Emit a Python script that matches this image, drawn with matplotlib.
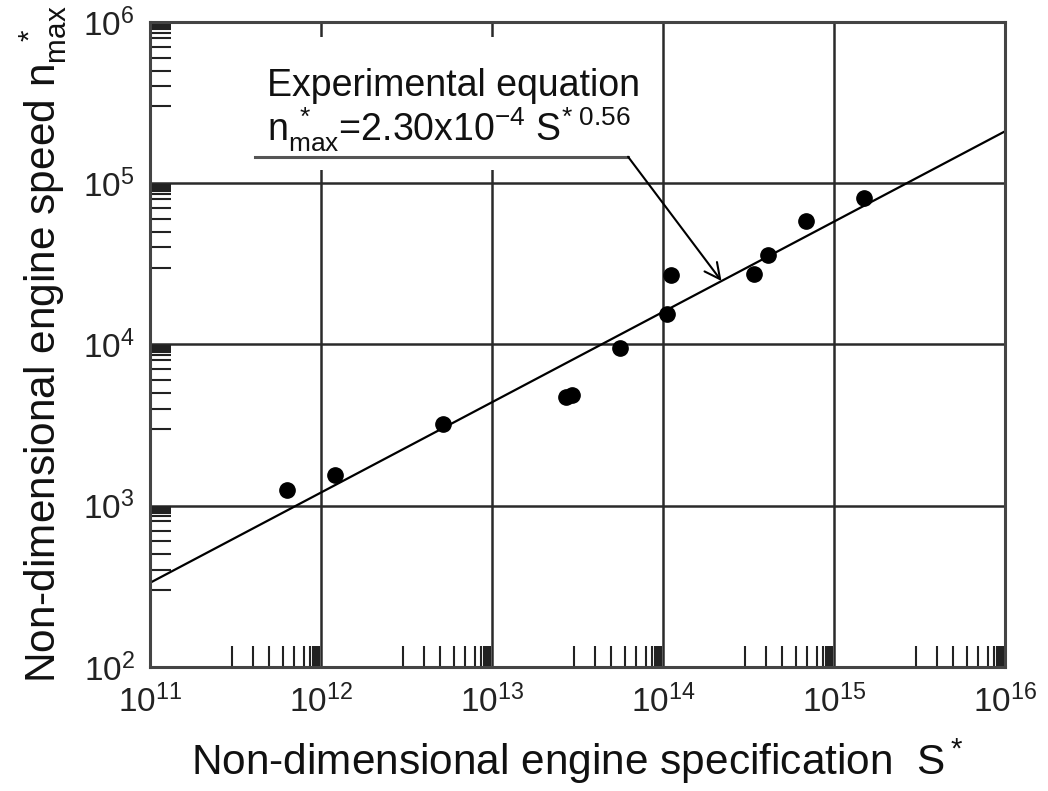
import matplotlib
matplotlib.use("Agg")
import matplotlib.pyplot as plt
from matplotlib.ticker import LogLocator, NullFormatter
from matplotlib.patches import Rectangle

plt.rcParams['font.family'] = ['Liberation Sans', 'DejaVu Sans']
plt.rcParams['mathtext.fontset'] = 'custom'
plt.rcParams['mathtext.rm'] = 'Liberation Sans'
plt.rcParams['mathtext.it'] = 'Liberation Sans:italic'
plt.rcParams['mathtext.bf'] = 'Liberation Sans:bold'

# measured engines: non-dimensional specification S* and max speed n*
spec_s = [6.3e11, 1.21e12, 5.2e12, 2.7e13, 2.95e13, 5.6e13,
          1.06e14, 1.12e14, 3.4e14, 4.1e14, 6.9e14, 1.5e15]
speed_n = [1260, 1550, 3230, 4750, 4850, 9500,
           15500, 27000, 27300, 35700, 58600, 81000]

# experimental equation n* = coef * S*^expo
coef = 2.30e-4
expo = 0.56
fit_s = [1e11, 1e16]
fit_n = [coef * s ** expo for s in fit_s]

# leader line of the equation label (corner, then arrow tip on the fit line)
leader_s = [4.1e11, 6.25e13]
leader_y = 1.46e5
tip_s = 2.2e14

fig = plt.figure(figsize=(10.48, 7.91), dpi=100)
ax = fig.add_axes([0.1431, 0.1568, 0.8158, 0.8154])
ax.set_xscale('log')
ax.set_yscale('log')
ax.set_xlim(1e11, 1e16)
ax.set_ylim(1e2, 1e6)
ax.set_axisbelow(True)

ax.grid(which='major', color='#2a2a2a', lw=1.8)
ax.add_patch(Rectangle((0.117, 0.771), 0.47, 0.206, transform=ax.transAxes,
                       facecolor='white', edgecolor='none', zorder=1))

ax.plot(fit_s, fit_n, color='black', lw=1.6, zorder=2)
ax.plot(spec_s, speed_n, 'o', color='black', ms=11, zorder=3)

ax.plot(leader_s, [leader_y, leader_y], color='#555555', lw=2.2, zorder=2)
ax.annotate('', xy=(tip_s, coef * tip_s ** expo), xytext=(leader_s[1], leader_y),
            arrowprops=dict(arrowstyle='->', color='black', lw=1.5,
                            mutation_scale=28, shrinkA=0, shrinkB=0), zorder=3)

ax.text(0.137, 0.885, 'Experimental equation', transform=ax.transAxes,
        fontsize=27, color='#111111', zorder=3)
ax.text(0.137, 0.815,
        r'n$_{\rm max}^{\ *}$=2.30x10$^{-4}$ S$^{*\ 0.56}$',
        transform=ax.transAxes, fontsize=27, color='#111111', zorder=3)

sub = [3, 4, 5, 6, 7, 8, 8.6, 9, 9.25, 9.5, 9.75]
ax.xaxis.set_minor_locator(LogLocator(base=10, subs=sub, numticks=20))
ax.yaxis.set_minor_locator(LogLocator(base=10, subs=sub, numticks=20))
ax.xaxis.set_minor_formatter(NullFormatter())
ax.yaxis.set_minor_formatter(NullFormatter())
ax.tick_params(which='minor', direction='in', length=15, width=1.5,
               color='#222222', top=False, right=False)
ax.tick_params(which='major', direction='in', length=0, labelsize=24,
               labelcolor='#222222')
ax.tick_params(axis='x', which='major', pad=13)
ax.tick_params(axis='y', which='major', pad=11)

for sp in ax.spines.values():
    sp.set_color('#444444')
    sp.set_linewidth(2.2)

ax.set_xlabel(r'Non-dimensional engine specification  S$^*$', fontsize=30.5,
              labelpad=12, color='#111111')
ax.set_ylabel(r'Non-dimensional engine speed n$_{\rm max}^{\ \ *}$', fontsize=30.5,
              labelpad=10, color='#111111')

fig.savefig('out.png', dpi=100)
